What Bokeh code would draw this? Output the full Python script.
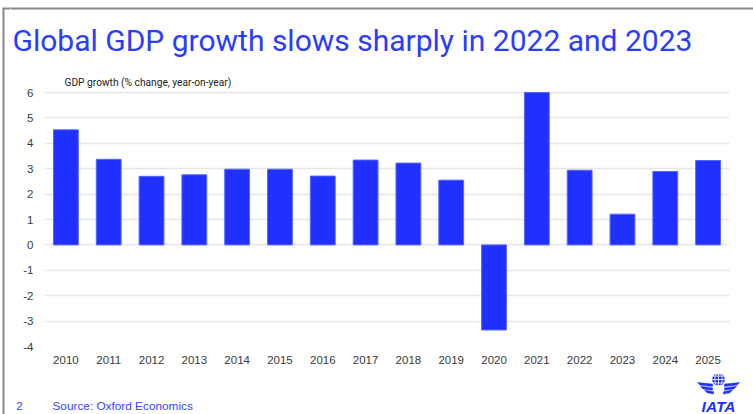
from bokeh.plotting import figure
from bokeh.layouts import column, row
from bokeh.models import Label, FactorRange, Range1d, FixedTicker
from bokeh.core.properties import value
from bokeh.embed import file_html
from bokeh.resources import INLINE

# ---- data ----
years = [str(y) for y in range(2010, 2026)]
growth = [4.53, 3.37, 2.70, 2.76, 2.98, 2.98, 2.71, 3.34, 3.22, 2.55,
          -3.35, 6.0, 2.94, 1.21, 2.89, 3.32]
y_ticks = [-4, -3, -2, -1, 0, 1, 2, 3, 4, 5, 6]

title_text = "Global GDP growth slows sharply in 2022 and 2023"
axis_text = "GDP growth (% change, year-on-year)"
source_text = "Source: Oxford Economics"
page_no = "2"
logo_text = "IATA"

# ---- layout constants (pixels) ----
W, H = 753, 414
TOP_H = 70          # height of the title strip
BOT_H = 40          # height of the footer strip
STRIP_W = 10        # left border strip
FL, FR, FB = 44, 729, 346   # chart frame left/right/bottom in page pixels
BLUE = "#1f30ff"
TXT_BLUE = "#2a3cff"
BORDER = "#8a8a8a"


def blank(width, height, x0, x1, y0, y1):
    f = figure(width=width, height=height, x_range=Range1d(x0, x1), y_range=Range1d(y1, y0),
               output_backend="svg", toolbar_location=None, frame_align=False,
               min_border=0, min_border_left=0, min_border_right=0,
               min_border_top=0, min_border_bottom=0)
    f.axis.visible = False
    f.grid.visible = False
    f.outline_line_color = None
    f.background_fill_color = "white"
    f.border_fill_color = "white"
    return f


# ---- left border strip (whole height) ----
strip = blank(STRIP_W, H, 0, STRIP_W, 0, H)
strip.line(x=[3, 3], y=[8, H + 5], line_color=BORDER, line_width=2)
strip.line(x=[2, STRIP_W + 5], y=[8, 8], line_color=BORDER, line_width=2)

# ---- title strip ----
top = blank(W - STRIP_W, TOP_H, STRIP_W, W, 0, TOP_H)
top.line(x=[STRIP_W - 5, W + 5], y=[8, 8], line_color=BORDER, line_width=2)
top.text(x=[12], y=[40], text=[title_text], text_font=value("Roboto"),
         text_font_size="30px", text_color=TXT_BLUE, text_baseline="alphabetic",
         text_align="left")

# ---- chart ----
CH_H = H - TOP_H - BOT_H
px_per_unit = (FB - 92) / 10.0
y_end = 6 + (92 - TOP_H) / px_per_unit

p = figure(width=W - STRIP_W, height=CH_H, x_range=FactorRange(*years),
           y_range=Range1d(-4, y_end), frame_align=False,
           output_backend="svg", toolbar_location=None,
           min_border_left=FL - STRIP_W, min_border_right=W - FR,
           min_border_top=0, min_border_bottom=(TOP_H + CH_H) - FB)
p.outline_line_color = None
p.background_fill_color = "white"
p.border_fill_color = "white"

p.vbar(x=years, top=growth, bottom=0, width=0.58, fill_color=BLUE,
       line_color="#5865ff", line_width=1)

p.xgrid.grid_line_color = None
p.ygrid.grid_line_color = "#e6e6e6"
p.ygrid.grid_line_width = 1.5
p.yaxis.ticker = FixedTicker(ticks=y_ticks)
p.yaxis.major_label_overrides = {t: str(t) for t in y_ticks}
for ax in (p.xaxis[0], p.yaxis[0]):
    ax.axis_line_color = None
    ax.major_tick_line_color = None
    ax.minor_tick_line_color = None
    ax.major_label_text_font = "Liberation Sans"
    ax.major_label_text_font_size = "11.5px"
    ax.major_label_text_color = "#3a3a3a"
p.yaxis.major_label_standoff = 5
p.xaxis.major_label_standoff = 3

p.add_layout(Label(x=64 - FL, y=FB - 82, x_units="screen", y_units="screen", text=axis_text,
                   text_font="Roboto", text_font_size="10.2px", text_color="#222222",
                   text_baseline="middle", text_align="left"))

# ---- footer ----
bot = blank(W - STRIP_W, BOT_H, STRIP_W, W, H - BOT_H, H)
bot.text(x=[19], y=[405], text=[page_no], text_font=value("Liberation Sans"),
         text_font_size="11.5px", text_color="#3344ff", text_baseline="middle", text_align="center")
bot.text(x=[52], y=[405], text=[source_text], text_font=value("Liberation Sans"),
         text_font_size="11.8px", text_color="#3344ff", text_baseline="middle", text_align="left")

# IATA logo
cx, cy, r = 718, 379, 6.8
wx, wy = [], []
for side in (-1, 1):
    for yy, x_out, x_in in [(382.0, 21, 6), (385.8, 18, 6), (389.6, 14, 5)]:
        wx.append([cx + side * x_out, cx + side * x_in, cx + side * x_in, cx + side * (x_out - 2.5)])
        wy.append([yy, yy + 1.6, yy + 4.0, yy + 2.6])
bot.patches(xs=wx, ys=wy, fill_color=BLUE, line_color=BLUE, line_width=0.5)
bot.circle(x=[cx], y=[cy], radius=r, fill_color=BLUE, line_color="white", line_width=1)
bot.multi_line(xs=[[cx - r, cx + r], [cx - r * 0.85, cx + r * 0.85], [cx - r * 0.85, cx + r * 0.85], [cx, cx]],
               ys=[[cy, cy], [cy - r * 0.5, cy - r * 0.5], [cy + r * 0.5, cy + r * 0.5], [cy - r, cy + r]],
               line_color="white", line_width=0.8)
bot.ellipse(x=[cx], y=[cy], width=[r * 1.1], height=[2 * r],
            fill_color=None, line_color="white", line_width=0.8)
bot.text(x=[718], y=[406], text=[logo_text], text_font=value("Liberation Sans"),
         text_font_size="15.5px", text_font_style="bold italic", text_color=BLUE,
         text_baseline="alphabetic", text_align="center")

layout = row(strip, column(top, p, bot, spacing=0), spacing=0)
open("out.html", "w").write(file_html(layout, INLINE))
